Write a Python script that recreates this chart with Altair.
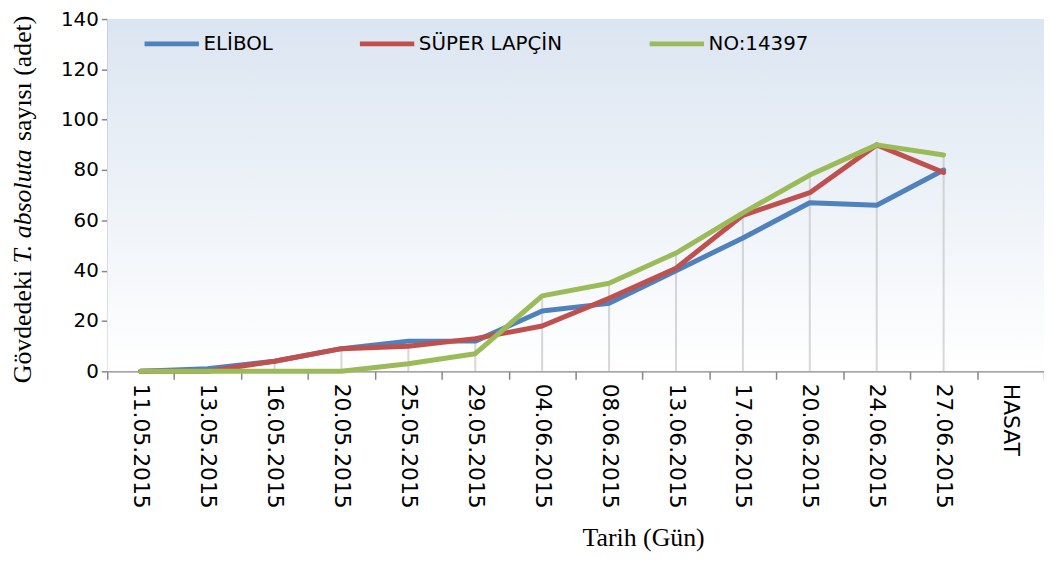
import altair as alt
import pandas as pd

dates = ["11.05.2015", "13.05.2015", "16.05.2015", "20.05.2015", "25.05.2015",
         "29.05.2015", "04.06.2015", "08.06.2015", "13.06.2015", "17.06.2015",
         "20.06.2015", "24.06.2015", "27.06.2015", "HASAT"]
series_names = ["ELİBOL", "SÜPER LAPÇİN", "NO:14397"]
elibol = [0, 1, 4, 9, 12, 12, 24, 27, 40, 53, 67, 66, 80]
super_lapcin = [0, 0, 4, 9, 10, 13, 18, 29, 41, 62, 71, 90, 79]
no14397 = [0, 0, 0, 0, 3, 7, 30, 35, 47, 63, 78, 90, 86]
colors = ["#4f81bd", "#c0504d", "#9bbb59"]
y_ticks = [0, 20, 40, 60, 80, 100, 120, 140]

rows = []
for name, vals in zip(series_names, [elibol, super_lapcin, no14397]):
    for d, v in zip(dates, vals):
        rows.append({"Tarih": d, "Seri": name, "Deger": v})
df = pd.DataFrame(rows)
drop = df.groupby("Tarih", sort=False)["Deger"].max().reset_index()

PAD_TOP = 9
W, H = 944, 372 - 8 - PAD_TOP
GRAY = "#868686"

x_enc = alt.X(
    "Tarih:N", sort=dates, bandPosition=0.5,
    scale=alt.Scale(type="band", domain=dates, paddingInner=0, paddingOuter=0),
    axis=alt.Axis(
        title="Tarih (Gün)", titleFont="Liberation Serif", titleFontSize=26,
        titleFontWeight="normal", titleColor="black", titleX=540, titleY=168,
        titleAlign="center", titleBaseline="middle",
        labelAngle=90, labelAlign="left", labelBaseline="middle",
        labelFont="DejaVu Sans", labelFontSize=22, labelColor="black",
        labelPadding=4, tickBand="extent", tickSize=8, tickColor=GRAY,
        tickWidth=1.5, domainColor=GRAY, domainWidth=1.5, grid=False,
    ),
)
y_enc = alt.Y(
    "Deger:Q",
    scale=alt.Scale(domain=[0, 140], nice=False),
    axis=alt.Axis(
        values=y_ticks, title=None, labelFont="DejaVu Sans", labelFontSize=20,
        labelColor="black", tickSize=6, tickColor=GRAY, tickWidth=1.5,
        domainColor=GRAY, domainWidth=1.5, labelPadding=3, grid=False,
    ),
)

one = pd.DataFrame({"k": [0]})

bg = alt.Chart(one).mark_rect(
    color=alt.LinearGradient(
        gradient="linear", x1=0, x2=0, y1=0, y2=1,
        stops=[alt.GradientStop(color="#dbe5f1", offset=0),
               alt.GradientStop(color="#ffffff", offset=1)],
    )
).encode(x=alt.value(0), x2=alt.value(W), y=alt.value(0), y2=alt.value(H))

rules = alt.Chart(drop).mark_rule(color="#bdbdbd", strokeWidth=2, opacity=0.6).encode(
    x=x_enc, y=y_enc, y2=alt.datum(0)
)

lines = alt.Chart(df).mark_line(strokeWidth=5, strokeJoin="round", strokeCap="round").encode(
    x=x_enc, y=y_enc,
    color=alt.Color(
        "Seri:N", sort=series_names,
        scale=alt.Scale(domain=series_names, range=colors),
        legend=alt.Legend(
            title=None, orient="none", legendX=35, legendY=-5,
            direction="horizontal", symbolType="stroke", symbolSize=3000,
            symbolStrokeWidth=5, labelFont="DejaVu Sans", labelFontSize=20,
            labelColor="black", columnPadding=77, labelOffset=2, padding=0,
        ),
    ),
)

FS = 26
y0 = 384 - 8 - PAD_TOP
y1 = y0 - 4.638 * FS
y2 = y1 - 4.751 * FS
tx = -85
t1 = alt.Chart(one).mark_text(text="Gövdedeki", font="Liberation Serif", fontSize=FS,
                              angle=270, align="left", baseline="middle",
                              color="black").encode(x=alt.value(tx), y=alt.value(y0))
t2 = alt.Chart(one).mark_text(text="T. absoluta", font="Liberation Serif", fontSize=FS,
                              fontStyle="italic", angle=270, align="left",
                              baseline="middle", color="black").encode(
    x=alt.value(tx), y=alt.value(y1))
t3 = alt.Chart(one).mark_text(text="sayısı (adet)", font="Liberation Serif", fontSize=FS,
                              angle=270, align="left", baseline="middle",
                              color="black").encode(x=alt.value(tx), y=alt.value(y2))

chart = alt.layer(bg, rules, lines, t1, t2, t3).properties(
    width=W, height=H,
    autosize=alt.AutoSizeParams(type="none"),
    padding={"left": 100, "top": PAD_TOP, "right": 0, "bottom": 553 - PAD_TOP - H},
).configure_view(stroke=None)

chart.save("out.html", embed_options={"renderer": "svg", "actions": False})
